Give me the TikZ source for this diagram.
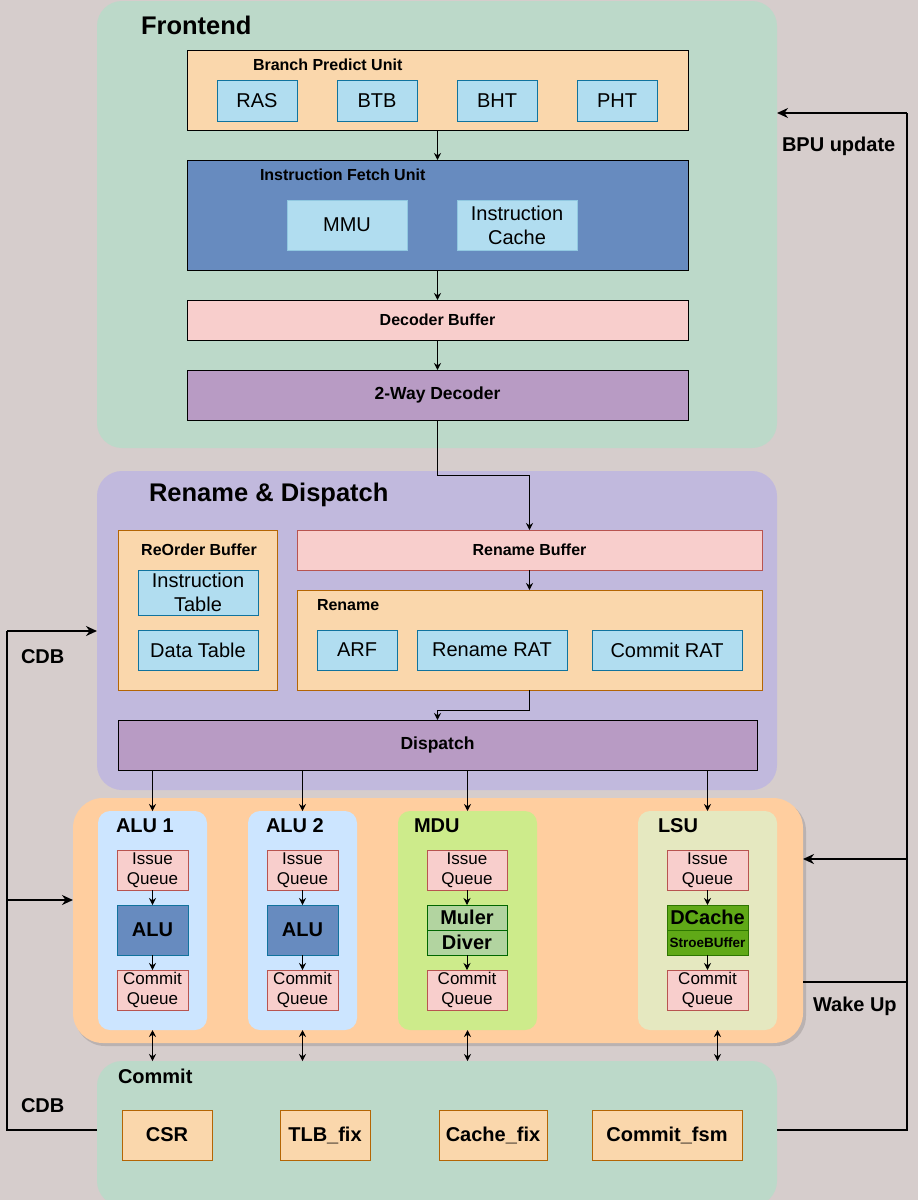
\documentclass[tikz,border=0pt]{standalone}
\usepackage{fontspec}
\setmainfont{Liberation Sans}
\usetikzlibrary{arrows.meta}
\definecolor{bgc}{RGB}{214,205,204}
\definecolor{greenc}{RGB}{188,217,201}
\definecolor{purplec}{RGB}{193,185,221}
\definecolor{orangec}{RGB}{255,206,159}
\definecolor{peach}{RGB}{250,215,172}
\definecolor{peachd}{RGB}{180,101,4}
\definecolor{lblue}{RGB}{177,221,240}
\definecolor{lblued}{RGB}{16,115,158}
\definecolor{mblue}{RGB}{103,139,191}
\definecolor{ifusub}{RGB}{145,200,225}
\definecolor{pinkc}{RGB}{248,206,204}
\definecolor{pinkd}{RGB}{184,84,80}
\definecolor{violetc}{RGB}{184,155,196}
\definecolor{alubg}{RGB}{204,229,255}
\definecolor{mdubg}{RGB}{205,235,139}
\definecolor{lsubg}{RGB}{229,232,192}
\definecolor{mgreen}{RGB}{178,212,160}
\definecolor{mgreend}{RGB}{0,102,0}
\definecolor{dgreen}{RGB}{96,169,23}
\definecolor{dgreend}{RGB}{45,118,0}
\newcommand\bx[7]{\node[#1, anchor=north west, minimum width={(#5)-(#3)}, minimum height={(#6)-(#4)}] (#2) at (#3,#4) {#7};}
\tikzset{
  box/.style={rectangle, inner sep=0pt, outer sep=0pt, line width=1pt, align=center},
  cont/.style={box, draw=none, rounded corners=25pt},
  panel/.style={box, draw=none, rounded corners=12pt},
  sub/.style={box, fill=lblue, draw=lblued, font=\fontsize{20}{24}\selectfont},
  ifsub/.style={box, fill=lblue, draw=ifusub, font=\fontsize{20}{24}\selectfont},
  bar/.style={box, draw=black, font=\bfseries\fontsize{16}{19}\selectfont},
  bigbar/.style={box, draw=black, font=\bfseries\fontsize{17.5}{21}\selectfont},
  orbox/.style={box, fill=peach, draw=peachd},
  cmbox/.style={box, fill=peach, draw=peachd, font=\bfseries\fontsize{20}{24}\selectfont},
  queue/.style={box, fill=pinkc, draw=pinkd, font=\fontsize{17}{20}\selectfont},
  alubox/.style={box, fill=mblue, draw=lblued, font=\bfseries\fontsize{20}{24}\selectfont},
  title/.style={inner sep=0pt, outer sep=0pt, anchor=west},
  bigt/.style={title, font=\bfseries\fontsize{25.5}{30}\selectfont},
  midt/.style={title, font=\bfseries\fontsize{20}{24}\selectfont},
  smt/.style={title, font=\bfseries\fontsize{16}{19}\selectfont},
  arr/.style={line width=1pt, -{Stealth[length=7pt,width=7pt]}},
  darr/.style={line width=1pt, {Stealth[length=7pt,width=7pt]}-{Stealth[length=7pt,width=7pt]}},
  tline/.style={line width=2pt},
  tarr/.style={line width=2pt, -{Stealth[length=11pt,width=10pt]}},
}
\begin{document}
\begin{tikzpicture}[x=1pt,y=-1pt]
\useasboundingbox (0,0) rectangle (918,1200);
\fill[bgc] (0,0) rectangle (918,1200);

% ---------- Frontend ----------
\bx{cont, fill=greenc}{fe}{97}{1}{777}{448}{}
\node[bigt] (fet) at (141,25) {Frontend};
\bx{box, fill=peach, draw=black}{bpu}{187}{50}{688}{130}{}
\node[smt] (bput) at (253,65) {Branch Predict Unit};
\bx{sub}{ras}{217}{80}{297}{121}{RAS}
\bx{sub}{btb}{337}{80}{417}{121}{BTB}
\bx{sub}{bht}{457}{80}{537}{121}{BHT}
\bx{sub}{pht}{577}{80}{657}{121}{PHT}
\bx{box, fill=mblue, draw=black}{ifu}{187}{160}{688}{270}{}
\node[smt] (ifut) at (260,175) {Instruction Fetch Unit};
\bx{ifsub}{mmu}{287}{200}{407}{250}{MMU}
\bx{ifsub}{icache}{457}{200}{577}{250}{Instruction\\Cache}
\bx{bar, fill=pinkc}{decbuf}{187}{300}{688}{340}{Decoder Buffer}
\bx{bigbar, fill=violetc}{dec}{187}{370}{688}{420}{2-Way Decoder}

% ---------- Rename & Dispatch ----------
\bx{cont, fill=purplec}{rdc}{97}{471}{777}{790}{}
\node[bigt] (rdct) at (149,495) {Rename \& Dispatch};
\bx{orbox}{rob}{118}{530}{277}{690}{}
\node[smt, anchor=center] (robt) at (199,550) {ReOrder Buffer};
\bx{sub}{itab}{138}{570}{258}{615}{Instruction\\Table}
\bx{sub}{dtab}{138}{630}{258}{670}{Data Table}
\bx{bar, fill=pinkc, draw=pinkd}{renbuf}{297}{530}{762}{570}{Rename Buffer}
\bx{orbox}{ren}{297}{590}{762}{690}{}
\node[smt] (rent) at (317,605) {Rename};
\bx{sub}{arf}{317}{630}{397}{670}{ARF}
\bx{sub}{rrat}{417}{630}{567}{670}{Rename RAT}
\bx{sub}{crat}{592}{630}{742}{670}{Commit RAT}
\bx{bigbar, fill=violetc}{disp}{118}{720}{757}{770}{Dispatch}

% ---------- Execute ----------
\fill[black, opacity=0.13, rounded corners=30pt] (75,801) rectangle (806,1046);
\bx{box, draw=none, rounded corners=30pt, fill=orangec}{exec}{73}{798}{803}{1043}{}
\bx{panel, fill=alubg}{alup1}{98}{811}{207}{1030}{}
\node[midt] (alut1) at (116,826) {ALU 1};
\bx{queue}{iq1}{117}{850}{188}{890}{Issue\\Queue}
\bx{alubox}{alu1}{117}{905}{188}{955}{ALU}
\bx{queue}{cq1}{117}{970}{188}{1010}{Commit\\Queue}
\bx{panel, fill=alubg}{alup2}{248}{811}{357}{1030}{}
\node[midt] (alut2) at (266,826) {ALU 2};
\bx{queue}{iq2}{267}{850}{338}{890}{Issue\\Queue}
\bx{alubox}{alu2}{267}{905}{338}{955}{ALU}
\bx{queue}{cq2}{267}{970}{338}{1010}{Commit\\Queue}
\bx{panel, fill=mdubg}{mdup}{398}{811}{537}{1030}{}
\node[midt] (mdut) at (414,826) {MDU};
\bx{queue}{iq3}{427}{850}{507}{890}{Issue\\Queue}
\bx{box, fill=mgreen, draw=mgreend, font=\bfseries\fontsize{20}{24}\selectfont}{mul}{427}{905}{507}{930}{Muler}
\bx{box, fill=mgreen, draw=mgreend, font=\bfseries\fontsize{20}{24}\selectfont}{div}{427}{930}{507}{955}{Diver}
\bx{queue}{cq3}{427}{970}{507}{1010}{Commit\\Queue}
\bx{panel, fill=lsubg}{lsup}{638}{811}{777}{1030}{}
\node[midt] (lsut) at (658,826) {LSU};
\bx{queue}{iq4}{667}{850}{748}{890}{Issue\\Queue}
\bx{box, fill=dgreen, draw=dgreend, font=\bfseries\fontsize{20}{24}\selectfont}{dc}{667}{905}{748}{930}{DCache}
\bx{box, fill=dgreen, draw=dgreend, font=\bfseries\fontsize{13.5}{16}\selectfont}{sb}{667}{930}{748}{955}{StroeBUffer}
\bx{queue}{cq4}{667}{970}{748}{1010}{Commit\\Queue}

% ---------- Commit ----------
\bx{cont, fill=greenc}{commitc}{97}{1061}{777}{1206}{}
\node[midt] (committ) at (118,1076) {Commit};
\bx{cmbox}{csr}{122}{1110}{212}{1160}{CSR}
\bx{cmbox}{tlb}{280}{1110}{370}{1160}{TLB\_fix}
\bx{cmbox}{cfix}{439}{1110}{547}{1160}{Cache\_fix}
\bx{cmbox}{cfsm}{592}{1110}{742}{1160}{Commit\_fsm}

% ---------- labels ----------
\node[midt] (cdbt1) at (21,657) {CDB};
\node[midt] (cdbt2) at (21,1106) {CDB};
\node[midt] (bpuup) at (782,146) {BPU update};
\node[midt] (wake) at (813,1006) {Wake Up};

% ---------- thin connectors ----------
\draw[arr] (bpu.south) -- (ifu.north);
\draw[arr] (ifu.south) -- (decbuf.north);
\draw[arr] (decbuf.south) -- (dec.north);
\draw[arr] (dec.south) -- ++(0,55) -| (renbuf.north);
\draw[arr] (renbuf.south) -- (ren.north);
\draw[arr] (ren.south) -- ++(0,20) -| (disp.north);
\foreach \p in {alup1,alup2,mdup,lsup}{
  \draw[arr] (disp.south -| \p.north) -- (\p.north);
}
\draw[arr] (iq1.south) -- (alu1.north);
\draw[arr] (iq2.south) -- (alu2.north);
\draw[arr] (iq3.south) -- (mul.north);
\draw[arr] (iq4.south) -- (dc.north);
\draw[arr] (alu1.south) -- (cq1.north);
\draw[arr] (alu2.south) -- (cq2.north);
\draw[arr] (div.south) -- (cq3.north);
\draw[arr] (sb.south) -- (cq4.north);
\draw[darr] (alup1.south) -- (alup1.south |- commitc.north);
\draw[darr] (alup2.south) -- (alup2.south |- commitc.north);
\draw[darr] (mdup.south) -- (mdup.south |- commitc.north);
\draw[darr] ([xshift=10pt]lsup.south) -- ([xshift=10pt]lsup.south |- commitc.north);

% ---------- thick loops ----------
\coordinate (L1) at (7,631);
\coordinate (L2) at (7,900);
\coordinate (L3) at (7,1130);
\draw[tline] (commitc.west |- L3) -- (L3) -- (L1);
\draw[tarr] (L1) -- (L1 -| rdc.west);
\draw[tarr] (L2) -- (L2 -| exec.west);
\coordinate (R1) at (907,113);
\coordinate (R2) at (907,859);
\coordinate (R3) at (907,982);
\coordinate (R4) at (907,1130);
\draw[tline] (commitc.east |- R4) -- (R4) -- (R1);
\draw[tarr] (R1) -- (R1 -| fe.east);
\draw[tarr] (R2) -- (R2 -| exec.east);
\draw[tline] (exec.east |- R3) -- (R3);
\end{tikzpicture}
\end{document}
